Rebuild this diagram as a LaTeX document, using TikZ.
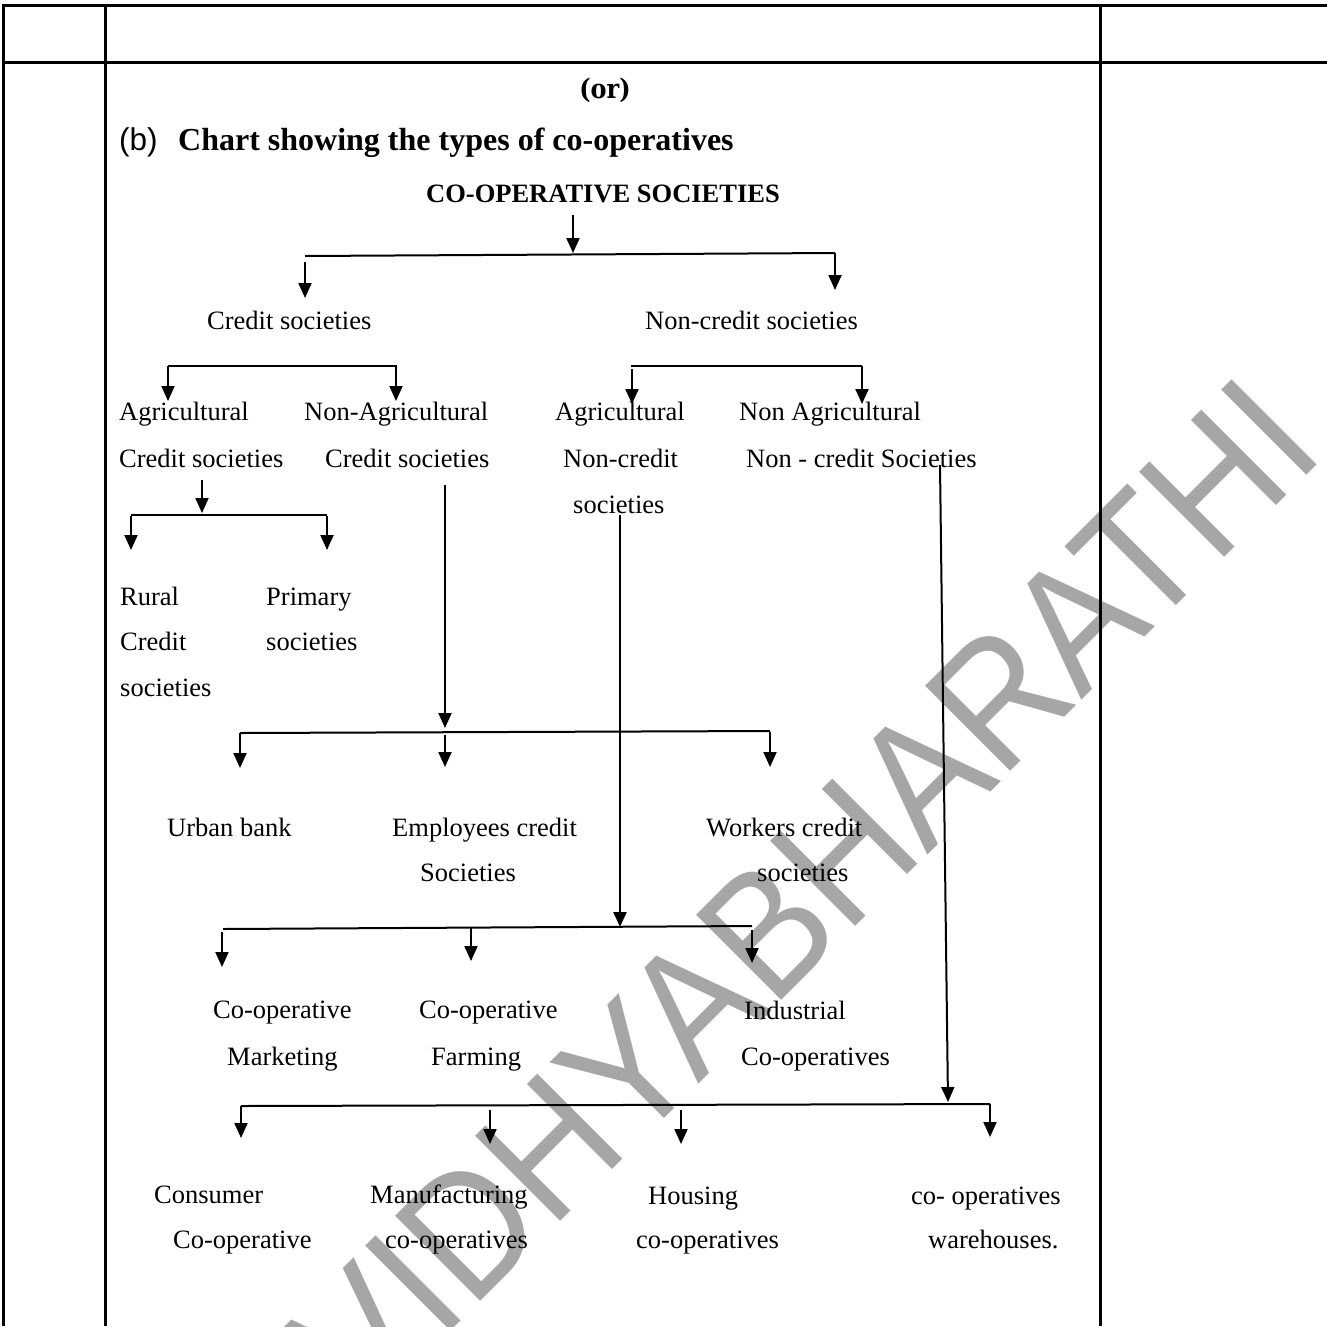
\documentclass[tikz,border=0pt]{standalone}
\usepackage{fontspec}
\setmainfont{Liberation Serif}
\newfontfamily\wmfont{Liberation Sans}
\newfontfamily\bfont{Liberation Sans}
\newfontfamily\orfont{DejaVu Serif}
\usetikzlibrary{arrows.meta}
\definecolor{wmgray}{HTML}{A6A6A6}
\tikzset{
  tbl/.style={line width=3pt},
  conn/.style={line width=2pt},
  arr/.style={line width=2pt, -{Triangle[length=15pt,width=13pt]}},
  lbl/.style={anchor=base west, inner sep=0pt, font=\fontsize{26.5}{30}\selectfont},
}
\begin{document}
\begin{tikzpicture}[x=1pt,y=-1pt]
\useasboundingbox (0,0) rectangle (1327,1326);
% watermark
\node[rotate=45, xscale=0.9, transform shape, text=wmgray, inner sep=0pt, font=\wmfont\fontsize{175}{175}\selectfont] (wm) at (804,893) {VIDHYABHARATHI};
% table
\coordinate (tl) at (2,5); \coordinate (tr) at (1327,5);
\coordinate (ml) at (2,62); \coordinate (mr) at (1327,62);
\coordinate (v1t) at (3,5); \coordinate (v1b) at (3,1326);
\coordinate (v2t) at (105,5); \coordinate (v2b) at (105,1326);
\coordinate (v3t) at (1100,5); \coordinate (v3b) at (1100,1326);
\draw[tbl] (tl) -- (tr);
\draw[tbl] (ml) -- (mr);
\draw[tbl] (v1t) -- (v1b);
\draw[tbl] (v2t) -- (v2b);
\draw[tbl] (v3t) -- (v3b);
% titles
\node[xscale=0.89, transform shape, inner sep=0pt, font=\orfont\bfseries\fontsize{27}{30}\selectfont] (or) at (605,90) {(or)};
\node[anchor=base west, inner sep=0pt, font=\bfont\fontsize{31.5}{36}\selectfont] (b) at (119,150) {(b)};
\node[anchor=base west, inner sep=0pt, font=\bfseries\fontsize{32}{36}\selectfont] (chart) at (178,150) {Chart showing the types of co-operatives};
\node[anchor=base, inner sep=0pt, font=\bfseries\fontsize{26.5}{30}\selectfont] (root) at (603,202) {CO-OPERATIVE SOCIETIES};
% labels
\node[lbl] (cs) at (207,329) {Credit societies};
\node[lbl] (ncs) at (645,329) {Non-credit societies};
\node[lbl] (ag1) at (119,420) {Agricultural};
\node[lbl] (ag2) at (119,467) {Credit societies};
\node[lbl] (nag1) at (304,420) {Non-Agricultural};
\node[lbl] (nag2) at (325,467) {Credit societies};
\node[lbl] (anc1) at (555,420) {Agricultural};
\node[lbl] (anc2) at (563,467) {Non-credit};
\node[lbl] (anc3) at (573,513) {societies};
\node[lbl] (nanc1) at (739,420) {Non Agricultural};
\node[lbl] (nanc2) at (746,467) {Non - credit Societies};
\node[lbl] (r1) at (120,605) {Rural};
\node[lbl] (r2) at (120,650) {Credit};
\node[lbl] (r3) at (120,696) {societies};
\node[lbl] (p1) at (266,605) {Primary};
\node[lbl] (p2) at (266,650) {societies};
\node[lbl] (ub) at (167,836) {Urban bank};
\node[lbl] (ec1) at (392,836) {Employees credit};
\node[lbl] (ec2) at (420,881) {Societies};
\node[lbl] (wc1) at (706,836) {Workers credit};
\node[lbl] (wc2) at (757,881) {societies};
\node[lbl] (cm1) at (213,1018) {Co-operative};
\node[lbl] (cm2) at (227,1065) {Marketing};
\node[lbl] (cf1) at (419,1018) {Co-operative};
\node[lbl] (cf2) at (431,1065) {Farming};
\node[lbl] (ic1) at (744,1019) {Industrial};
\node[lbl] (ic2) at (741,1065) {Co-operatives};
\node[lbl] (cc1) at (154,1203) {Consumer};
\node[lbl] (cc2) at (173,1248) {Co-operative};
\node[lbl] (mc1) at (370,1203) {Manufacturing};
\node[lbl] (mc2) at (385,1248) {co-operatives};
\node[lbl] (hc1) at (648,1204) {Housing};
\node[lbl] (hc2) at (636,1248) {co-operatives};
\node[lbl] (wh1) at (911,1204) {co- operatives};
\node[lbl] (wh2) at (928,1248) {warehouses.};
% connector coordinates
\coordinate (r0a) at (573,215); \coordinate (r0b) at (573,253);
\coordinate (b1L) at (305,256); \coordinate (b1R) at (835,253);
\coordinate (a1s) at (305,262); \coordinate (a1e) at (305,298);
\coordinate (a2e) at (835,290);
\coordinate (b2L) at (168,366); \coordinate (b2R) at (397,366);
\coordinate (a3e) at (168,401); \coordinate (a4s) at (396,366); \coordinate (a4e) at (396,401);
\coordinate (b3L) at (631,366); \coordinate (b3R) at (862,366);
\coordinate (a5s) at (632,369); \coordinate (a5e) at (632,404); \coordinate (a6e) at (862,404);
\coordinate (a7s) at (202,480); \coordinate (a7e) at (202,513);
\coordinate (b4L) at (131,515); \coordinate (b4R) at (327,515);
\coordinate (a8s) at (131,516); \coordinate (a8e) at (131,550);
\coordinate (a9s) at (327,516); \coordinate (a9e) at (327,550);
\coordinate (v1s) at (445,485); \coordinate (v1e) at (445,728);
\coordinate (b5L) at (240,733); \coordinate (b5R) at (770,731);
\coordinate (c1e) at (240,768); \coordinate (c2s) at (445,735); \coordinate (c2e) at (445,767);
\coordinate (c3s) at (770,732); \coordinate (c3e) at (770,767);
\coordinate (v2s) at (620,515); \coordinate (v2e) at (620,927);
\coordinate (b6L) at (223,929); \coordinate (b6R) at (752,926);
\coordinate (d1s) at (222,932); \coordinate (d1e) at (222,967);
\coordinate (d2s) at (471,928); \coordinate (d2e) at (471,961);
\coordinate (d3s) at (752,930); \coordinate (d3e) at (752,963);
\coordinate (v3s) at (940,465); \coordinate (v3e) at (948,1102);
\coordinate (b7L) at (241,1106); \coordinate (b7R) at (990,1104);
\coordinate (e1e) at (241,1138);
\coordinate (e2s) at (490,1110); \coordinate (e2e) at (490,1144);
\coordinate (e3s) at (681,1110); \coordinate (e3e) at (681,1144);
\coordinate (e4e) at (990,1137);
% connectors
\draw[arr] (r0a) -- (r0b);
\draw[conn] (b1L) -- (b1R);
\draw[arr] (a1s) -- (a1e);
\draw[arr] (b1R) -- (a2e);
\draw[conn] (b2L) -- (b2R);
\draw[arr] (b2L) -- (a3e);
\draw[arr] (a4s) -- (a4e);
\draw[conn] (b3L) -- (b3R);
\draw[arr] (a5s) -- (a5e);
\draw[arr] (b3R) -- (a6e);
\draw[arr] (a7s) -- (a7e);
\draw[conn] (b4L) -- (b4R);
\draw[arr] (a8s) -- (a8e);
\draw[arr] (a9s) -- (a9e);
\draw[arr] (v1s) -- (v1e);
\draw[conn] (b5L) -- (b5R);
\draw[arr] (b5L) -- (c1e);
\draw[arr] (c2s) -- (c2e);
\draw[arr] (c3s) -- (c3e);
\draw[arr] (v2s) -- (v2e);
\draw[conn] (b6L) -- (b6R);
\draw[arr] (d1s) -- (d1e);
\draw[arr] (d2s) -- (d2e);
\draw[arr] (d3s) -- (d3e);
\draw[arr] (v3s) -- (v3e);
\draw[conn] (b7L) -- (b7R);
\draw[arr] (b7L) -- (e1e);
\draw[arr] (e2s) -- (e2e);
\draw[arr] (e3s) -- (e3e);
\draw[arr] (b7R) -- (e4e);
\end{tikzpicture}
\end{document}
